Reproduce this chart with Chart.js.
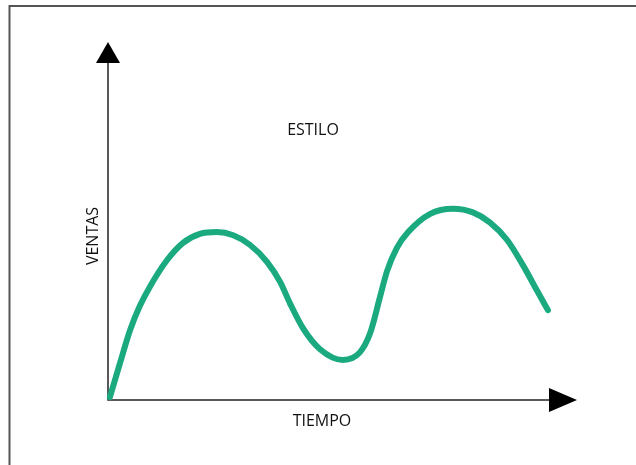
<!DOCTYPE html>
<html>
<head>
<meta charset="utf-8">
<script src="https://cdn.jsdelivr.net/npm/chart.js@4"></script>
<style>
  html, body { margin: 0; padding: 0; background: #fff; }
  canvas { display: block; }
</style>
</head>
<body>
<canvas id="estiloChart" width="636" height="465"></canvas>
<script>
// curve (tiempo 0-100, ventas 0-100)
const tiempo = [0.4, 2.6, 4.7, 6.8, 9.0, 12.6, 16.0, 19.6, 23.2, 26.7, 30.3, 33.9, 36.7, 38.8, 41.6, 45.2,
  50.1, 53.7, 55.9, 58.0, 59.5, 61.6, 64.0, 68.7, 73.6, 77.8, 81.4, 85.1, 88.5, 91.5, 93.8];
const ventas = [0.8, 10.5, 19.5, 26.3, 31.8, 39.1, 43.9, 46.4, 46.9, 46.0, 43.3, 38.6, 33.0, 27.0, 20.0, 14.2,
  11.2, 13.3, 18.7, 28.8, 36.0, 42.5, 46.9, 52.0, 53.4, 52.4, 49.6, 44.7, 37.6, 30.5, 25.1];
const titleText = 'ESTILO';
const xLabel = 'TIEMPO';
const yLabel = 'VENTAS';

const points = tiempo.map((t, i) => ({ x: t, y: ventas[i] }));

// frame, arrow axes and labels
const decor = {
  id: 'decor',
  beforeDatasetsDraw(chart) {
    const { ctx, chartArea: a } = chart;
    ctx.save();
    // page frame (top and left)
    ctx.strokeStyle = '#555';
    ctx.lineWidth = 2;
    ctx.beginPath();
    ctx.moveTo(636, 6);
    ctx.lineTo(9.5, 6);
    ctx.lineTo(9.5, 465);
    ctx.stroke();

    // axes
    ctx.strokeStyle = '#222';
    ctx.lineWidth = 1.5;
    ctx.beginPath();
    ctx.moveTo(a.left, a.top + 18);
    ctx.lineTo(a.left, a.bottom);
    ctx.lineTo(a.right - 26, a.bottom);
    ctx.stroke();

    ctx.fillStyle = '#000';
    ctx.beginPath();
    ctx.moveTo(a.left, a.top);
    ctx.lineTo(a.left - 12, a.top + 21);
    ctx.lineTo(a.left + 12, a.top + 21);
    ctx.closePath();
    ctx.fill();
    ctx.beginPath();
    ctx.moveTo(a.right, a.bottom);
    ctx.lineTo(a.right - 28, a.bottom - 12);
    ctx.lineTo(a.right - 28, a.bottom + 12);
    ctx.closePath();
    ctx.fill();

    // texts
    ctx.fillStyle = '#111';
    ctx.font = '16px "Open Sans"';
    ctx.textAlign = 'center';
    ctx.textBaseline = 'middle';
    ctx.fillText(titleText, 313, 130);
    ctx.fillText(xLabel, 322, 421);
    ctx.translate(93, 236);
    ctx.rotate(-Math.PI / 2);
    ctx.fillText(yLabel, 0, 0);
    ctx.restore();
  }
};

new Chart(document.getElementById('estiloChart'), {
  type: 'line',
  data: {
    datasets: [{
      data: points,
      borderColor: '#1BAA80',
      borderWidth: 6,
      borderCapStyle: 'round',
      borderJoinStyle: 'round',
      pointRadius: 0,
      cubicInterpolationMode: 'monotone',
      fill: false
    }]
  },
  options: {
    responsive: false,
    animation: false,
    clip: false,
    layout: { padding: { left: 108, right: 59, top: 42, bottom: 65 } },
    plugins: { legend: { display: false }, tooltip: { enabled: false } },
    scales: {
      x: { type: 'linear', min: 0, max: 100, display: false },
      y: { min: 0, max: 100, display: false }
    }
  },
  plugins: [decor]
});
</script>
</body>
</html>
